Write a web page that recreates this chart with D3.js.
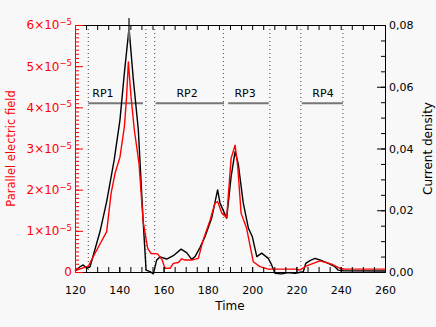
<!DOCTYPE html>
<html>
<head>
<meta charset="utf-8">
<script src="https://cdn.jsdelivr.net/npm/d3@7/dist/d3.min.js"></script>
<style>
  body { margin: 0; background: #f8f8f8; }
  svg { display: block; font-family: "DejaVu Sans", sans-serif; }
</style>
</head>
<body>
<svg width="436" height="327"></svg>
<script>
// current density (black, right axis)
var timeJ = [120, 122.3, 123.7, 125.3, 126.8, 131.3, 134.3, 137.7, 140.3, 142.3, 144.4, 146.3, 148.6, 150.8,
  152.1, 153.9, 155.4, 156.9, 158.4, 161.4, 164.8, 167.9, 170.4, 172.7, 174.2, 176.5, 178.7, 181.7, 184.4,
  185.5, 188.5, 190.5, 192.3, 193.7, 196.0, 198.3, 200.1, 202.1, 204.3, 207.3, 208.8, 210.3, 213.3, 216.3,
  219.4, 223.1, 224.2, 226.1, 228.4, 230.6, 234.4, 237.4, 238.9, 241.2, 260];
var currentDensity = [0.0004, 0.0017, 0.0023, 0.0012, 0.0017, 0.0131, 0.0228, 0.0363, 0.0492, 0.0645, 0.0790,
  0.0627, 0.0460, 0.0162, 0.0006, 0.0001, -0.0006, 0.0039, 0.0049, 0.0042, 0.0055, 0.0074, 0.0063, 0.0041,
  0.0050, 0.0080, 0.0114, 0.0174, 0.0266, 0.0223, 0.0174, 0.0309, 0.0390, 0.0352, 0.0223, 0.0142, 0.0114,
  0.0050, 0.0061, 0.0044, 0.0023, -0.0004, -0.0006, -0.0002, -0.0004, 0.0001, 0.0028, 0.0037, 0.0044,
  0.0039, 0.0028, 0.0017, 0.0006, 0.0004, 0.0003];

// parallel electric field (red, left axis), in units of 1e-5
var timeE = [120, 123.0, 126.0, 129.0, 134.3, 136.3, 138.1, 140.3, 142.3, 143.3, 144.1, 145.3, 146.8, 148.9,
  150.8, 152.8, 154.3, 157.3, 159.4, 160.6, 162.9, 164.4, 166.7, 168.2, 169.7, 172.7, 175.7, 177.9, 181.0,
  183.2, 184.4, 186.3, 188.5, 190.5, 192.3, 193.5, 195.0, 197.5, 200.5, 203.5, 207.3, 219.4, 221.6, 224.6,
  230.6, 235.9, 239.7, 241.9, 260];
var electricField = [0.03, 0.09, 0.14, 0.45, 0.98, 1.91, 2.40, 2.79, 3.53, 4.26, 5.10, 4.26, 3.45, 2.64,
  1.21, 0.58, 0.45, 0.44, 0.29, 0.09, 0.09, 0.21, 0.23, 0.32, 0.29, 0.29, 0.33, 0.78, 1.26, 1.67, 1.71,
  1.43, 1.32, 2.76, 3.08, 2.56, 1.43, 1.06, 0.25, 0.13, 0.07, 0.07, 0.05, 0.15, 0.27, 0.19, 0.09, 0.07, 0.07];

var xTicks = [120, 140, 160, 180, 200, 220, 240, 260];
var leftTicks = [0, 1, 2, 3, 4, 5, 6];
var rightTicks = [0, 0.02, 0.04, 0.06, 0.08];

var dividers = [126, 152, 156, 187, 208, 222, 241];
var rpNames = ["RP1", "RP2", "RP3", "RP4"];
var rpStart = [126, 156.4, 189.2, 222.4];
var rpEnd = [150.7, 187.3, 207.5, 241];
var rpLabelAt = [132.6, 170.6, 196.8, 232];
var rpLevel = 4.1;

var svg = d3.select("svg");
var pLeft = 75, pRight = 385, pTop = 25, pBottom = 272;

var x = d3.scaleLinear().domain([120, 260]).range([pLeft, pRight]);
var yE = d3.scaleLinear().domain([0, 6]).range([pBottom, pTop]);
var yJ = d3.scaleLinear().domain([0, 0.08]).range([pBottom, pTop]);

// dotted dividers
svg.append("g").selectAll("line")
  .data(dividers)
  .enter().append("line")
    .attr("x1", d => x(d)).attr("x2", d => x(d))
    .attr("y1", pTop).attr("y2", pBottom)
    .attr("stroke", "#444").attr("stroke-width", 1)
    .attr("stroke-dasharray", "1,3");

// RP bars
svg.append("g").selectAll("line")
  .data(rpNames)
  .enter().append("line")
    .attr("x1", (d, i) => x(rpStart[i])).attr("x2", (d, i) => x(rpEnd[i]))
    .attr("y1", yE(rpLevel)).attr("y2", yE(rpLevel))
    .attr("stroke", "#777").attr("stroke-width", 2);

svg.append("g").selectAll("text")
  .data(rpNames)
  .enter().append("text")
    .attr("x", (d, i) => x(rpLabelAt[i]))
    .attr("y", yE(rpLevel) - 6)
    .attr("text-anchor", "middle")
    .attr("font-size", 11)
    .text(d => d);

// curves
var lineJ = d3.line().x((d, i) => x(timeJ[i])).y(d => yJ(d));
var lineE = d3.line().x((d, i) => x(timeE[i])).y(d => yE(d));

svg.append("path").datum(currentDensity)
  .attr("d", lineJ).attr("fill", "none")
  .attr("stroke", "#000").attr("stroke-width", 1.4).attr("stroke-linejoin", "round");

svg.append("path").datum(electricField)
  .attr("d", lineE).attr("fill", "none")
  .attr("stroke", "#f00").attr("stroke-width", 1.4).attr("stroke-linejoin", "round");

// gray mark at the current density peak
var pk = d3.maxIndex(currentDensity);
svg.append("line")
  .attr("x1", x(timeJ[pk])).attr("x2", x(timeJ[pk]))
  .attr("y1", yJ(currentDensity[pk]) - 10).attr("y2", yJ(currentDensity[pk]) + 12)
  .attr("stroke", "#666").attr("stroke-width", 2);

// axes
var minorX = d3.range(120, 261, 5);
svg.append("g").attr("transform", "translate(0," + pBottom + ")")
  .call(d3.axisBottom(x).tickValues(minorX).tickFormat("").tickSize(-5).tickSizeOuter(0));
svg.append("g").attr("transform", "translate(0," + pBottom + ")")
  .call(d3.axisBottom(x).tickValues(xTicks).tickFormat(d3.format("d")).tickSize(-5).tickSizeOuter(0).tickPadding(14))
  .call(g => g.selectAll("text").attr("font-size", 11).attr("fill", "#000").attr("font-family", "DejaVu Sans"));
svg.append("g").attr("transform", "translate(0," + pTop + ")")
  .call(d3.axisTop(x).tickValues(minorX).tickFormat("").tickSize(-5).tickSizeOuter(0));

svg.append("g").attr("transform", "translate(" + pRight + ",0)")
  .call(d3.axisRight(yJ).tickValues(d3.range(0, 0.0801, 0.005)).tickFormat("").tickSize(-4).tickSizeOuter(0));
svg.append("g").attr("transform", "translate(" + pRight + ",0)")
  .call(d3.axisRight(yJ).tickValues(rightTicks).tickFormat(d => d3.format(".2f")(d).replace(".", ","))
    .tickSize(-8).tickSizeOuter(0).tickPadding(4))
  .call(g => g.selectAll("text").attr("font-size", 11).attr("fill", "#000").attr("font-family", "DejaVu Sans"));

var leftMinor = svg.append("g").attr("transform", "translate(" + pLeft + ",0)")
  .call(d3.axisLeft(yE).tickValues(d3.range(0, 6.01, 0.1)).tickFormat("").tickSize(-4).tickSizeOuter(0));
var leftMajor = svg.append("g").attr("transform", "translate(" + pLeft + ",0)")
  .call(d3.axisLeft(yE).tickValues(leftTicks).tickFormat("").tickSize(-8).tickSizeOuter(0));
leftMinor.selectAll("line,path").attr("stroke", "#f00");
leftMajor.selectAll("line,path").attr("stroke", "#f00");

leftMajor.selectAll(".tick").append("text")
  .attr("x", -3).attr("dy", "0.32em")
  .attr("text-anchor", "end")
  .attr("fill", "#f00").attr("font-size", 12).attr("font-family", "DejaVu Sans")
  .each(function(d) {
    var t = d3.select(this);
    if (d === 0) { t.text("0"); return; }
    t.append("tspan").text(d + "×10");
    t.append("tspan").attr("dy", "-0.5em").attr("font-size", 8.5).text("−5");
  });

// titles
svg.append("text").attr("x", x(190)).attr("y", 310)
  .attr("text-anchor", "middle").attr("font-size", 12).text("Time");
svg.append("text")
  .attr("transform", "translate(11," + (pTop + pBottom) / 2 + ") rotate(-90)")
  .attr("text-anchor", "middle").attr("dy", "0.35em")
  .attr("font-size", 11.5).attr("fill", "#f00").text("Parallel electric field");
svg.append("text")
  .attr("transform", "translate(428," + (pTop + pBottom) / 2 + ") rotate(-90)")
  .attr("text-anchor", "middle").attr("dy", "0.35em")
  .attr("font-size", 12).attr("fill", "#000").text("Current density");
</script>
</body>
</html>
